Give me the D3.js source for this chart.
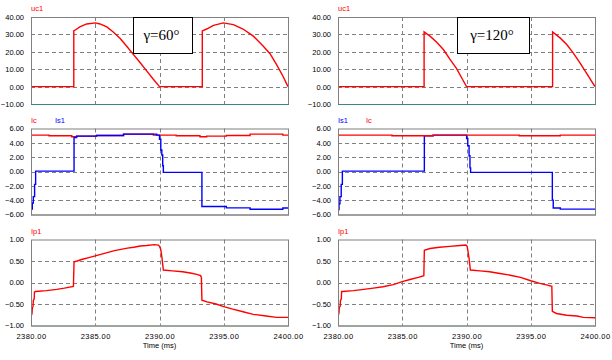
<!DOCTYPE html>
<html><head><meta charset="utf-8">
<script src="https://cdn.jsdelivr.net/npm/d3@7"></script>
<style>body{margin:0;background:#fff}</style>
</head><body>
<svg id="c" width="612" height="360"></svg>
<script>
// ---------- data ----------
const xDomain = [2380, 2400];
const xTicks = [2380, 2385, 2390, 2395, 2400];
const ucTicks = [-10, 0, 10, 20, 30, 40];
const iTicks = [-6, -4, -2, 0, 2, 4, 6];
const ipTicks = [-1, -0.5, 0, 0.5, 1];
const gammaLabels = ["γ=60°", "γ=120°"];

const ucLeft = [[2380,0],[2383.33,0],[2383.33,32.0],[2383.42,32.4],[2383.8,34.3],[2384.33,36.0],[2385.03,36.6],[2385.37,36.0],[2385.9,34.3],[2386.4,31.4],[2386.94,27.6],[2387.45,23.2],[2387.96,18.5],[2388.5,13.7],[2389.0,9.0],[2389.52,4.2],[2390.0,0],[2393.33,0],[2393.33,32],[2393.67,33.1],[2394.2,35.2],[2394.97,36.6],[2395.75,35.6],[2396.5,33.1],[2397.3,29],[2398.08,23.2],[2398.6,18.9],[2399.1,12.8],[2399.6,6.1],[2400,0]];
const ucRight = [[2380,0],[2386.7,0],[2386.7,31.4],[2387.16,29],[2387.68,25.5],[2388.2,21.3],[2388.72,15.6],[2389.23,10.3],[2389.62,5.1],[2390.0,0],[2396.7,0],[2396.7,31.4],[2397.28,28],[2397.8,24.2],[2398.3,19.4],[2398.83,13.7],[2399.35,7.6],[2400,0]];

const icLeft = [[2380,5.07],[2381.4,4.98],[2383.17,4.84],[2383.55,4.93],[2385.1,5.02],[2387.2,5.21],[2389.52,5.07],[2391.3,4.98],[2393.15,4.84],[2393.67,4.93],[2395.2,5.02],[2397.05,5.21],[2399.6,5.07],[2400,5.07]];
const isLeft = [[2380,-5.23],[2380.1,-4.4],[2380.18,-3.5],[2380.28,-1.8],[2380.36,0.05],[2383.35,4.74],[2383.55,4.93],[2385.1,5.02],[2387.2,5.21],[2389.78,5.07],[2390.0,4.5],[2390.1,3.0],[2390.18,2.3],[2390.25,0.8],[2390.3,-0.12],[2393.3,-4.88],[2395.2,-5.07],[2397.05,-5.26],[2399.6,-5.1],[2400,-5.1]];
const icRight = [[2380,5.07],[2384.2,4.98],[2387.4,5.07],[2394.1,4.98],[2397.3,5.07],[2400,5.07]];
const isRight = [[2380,-5.3],[2380.08,-4.5],[2380.15,-3.5],[2380.25,-1.8],[2380.34,0.05],[2386.72,4.98],[2387.4,5.07],[2390.01,4.6],[2390.1,3.6],[2390.2,2.2],[2390.27,0.5],[2390.32,-0.12],[2396.68,-4.0],[2396.75,-5.1],[2397.3,-5.25],[2400,-5.25]];

const ipLeft = [[2380,-0.80],[2380.08,-0.72],[2380.1,-0.60],[2380.16,-0.55],[2380.18,-0.42],[2380.25,-0.38],[2380.27,-0.22],[2380.35,-0.21],[2381.2,-0.19],[2382.0,-0.16],[2382.6,-0.13],[2383.3,-0.09],[2383.35,0.48],[2383.6,0.50],[2384.0,0.54],[2384.5,0.58],[2385.0,0.62],[2385.5,0.66],[2386.0,0.70],[2386.5,0.74],[2387.0,0.77],[2387.5,0.80],[2388.0,0.82],[2388.5,0.85],[2389.0,0.86],[2389.6,0.88],[2389.9,0.87],[2390.0,0.84],[2390.1,0.77],[2390.18,0.60],[2390.24,0.45],[2390.3,0.29],[2391.0,0.27],[2391.8,0.25],[2392.4,0.22],[2392.9,0.19],[2393.2,0.16],[2393.26,0.12],[2393.3,-0.41],[2393.7,-0.45],[2394.4,-0.50],[2395.0,-0.56],[2395.7,-0.62],[2396.5,-0.68],[2397.3,-0.74],[2398.3,-0.78],[2399.1,-0.81],[2400,-0.81]];
const ipRight = [[2380,-0.80],[2380.08,-0.70],[2380.1,-0.58],[2380.17,-0.55],[2380.19,-0.42],[2380.26,-0.38],[2380.28,-0.21],[2380.34,-0.21],[2381.2,-0.19],[2382.0,-0.16],[2382.75,-0.13],[2383.5,-0.10],[2384.3,-0.05],[2385.0,0.02],[2385.6,0.07],[2386.25,0.12],[2386.68,0.16],[2386.72,0.75],[2387.16,0.79],[2387.9,0.82],[2388.7,0.84],[2389.5,0.86],[2389.95,0.87],[2390.05,0.84],[2390.12,0.72],[2390.2,0.56],[2390.3,0.29],[2391.05,0.27],[2391.8,0.25],[2392.6,0.21],[2393.4,0.17],[2394.2,0.12],[2395.0,0.04],[2395.7,-0.02],[2396.3,-0.06],[2396.64,-0.09],[2396.68,-0.67],[2397.0,-0.72],[2397.8,-0.76],[2398.6,-0.78],[2399.1,-0.81],[2400,-0.82]];

// ---------- layout ----------
const svg = d3.select("#c");
svg.append("rect").attr("width",612).attr("height",360).attr("fill","#fff");
const cols = [{x0:31,x1:288},{x0:338,x1:595}];
const rows = [{y0:17,y1:104,ticks:ucTicks,fmt:d3.format(".2f"),bottom:"#3f8585"},
              {y0:128.5,y1:214.5,ticks:iTicks,fmt:d3.format(".2f"),bottom:"#808080"},
              {y0:239.5,y1:325.5,ticks:ipTicks,fmt:d3.format(".2f"),bottom:"#7a8a80"}];
const font = "Liberation Sans, Arial, sans-serif";
let clipId = 0;

function panel(ci, ri, series, labels) {
  const c = cols[ci], r = rows[ri];
  const x = d3.scaleLinear().domain(xDomain).range([c.x0, c.x1]);
  const dom = d3.extent(r.ticks);
  const y = d3.scaleLinear().domain(dom).range([r.y1, r.y0]);
  const g = svg.append("g");
  const id = "clip" + (clipId++);
  svg.append("clipPath").attr("id", id).append("rect")
    .attr("x", c.x0).attr("y", r.y0 - 1).attr("width", c.x1 - c.x0).attr("height", r.y1 - r.y0 + 2);
  // grid
  const inner = r.ticks.filter(t => t !== dom[0] && t !== dom[1]);
  g.selectAll("line.h").data(inner).enter().append("line")
    .attr("x1", c.x0).attr("x2", c.x1).attr("y1", d => Math.round(y(d)) + 0.5).attr("y2", d => Math.round(y(d)) + 0.5)
    .attr("stroke", "#808080").attr("stroke-dasharray", "4,3");
  g.selectAll("line.v").data(xTicks.slice(1, -1)).enter().append("line")
    .attr("y1", r.y0).attr("y2", r.y1).attr("x1", d => Math.round(x(d)) + 0.5).attr("x2", d => Math.round(x(d)) + 0.5)
    .attr("stroke", "#808080").attr("stroke-dasharray", "4,3");
  // y axis labels via d3 axis
  const ax = d3.axisLeft(y).tickValues(r.ticks).tickFormat(r.fmt).tickSize(0).tickPadding(7);
  const ag = g.append("g").attr("transform", `translate(${c.x0},0)`).call(ax);
  ag.select(".domain").remove();
  ag.selectAll("text").attr("font-family", font).attr("font-size", "7.5px").attr("fill", "#000");
  // series
  series.forEach(s => {
    const line = d3.line().x(d => x(d[0])).y(d => y(d[1])).curve(s.curve || d3.curveLinear);
    g.append("path").datum(s.data).attr("d", line).attr("fill", "none")
      .attr("stroke", s.color).attr("stroke-width", 1.4).attr("clip-path", `url(#${id})`);
  });
  // frame
  g.append("rect").attr("x", c.x0 + 0.5).attr("y", r.y0 + 0.5).attr("width", c.x1 - c.x0).attr("height", r.y1 - r.y0)
    .attr("fill", "none").attr("stroke", "#808080");
  g.append("line").attr("x1", c.x0).attr("x2", c.x1 + 1).attr("y1", r.y1 + 0.5).attr("y2", r.y1 + 0.5)
    .attr("stroke", r.bottom);
  // labels
  labels.forEach(l => {
    g.append("text").attr("x", c.x0 + l.dx).attr("y", r.y0 - 6).attr("font-family", font)
      .attr("font-size", "7.5px").attr("fill", l.color).text(l.text);
  });
  // x axis for bottom row
  if (ri === 2) {
    const xa = d3.axisBottom(x).tickValues(xTicks).tickFormat(d3.format(".2f")).tickSize(0).tickPadding(8);
    const xg = g.append("g").attr("transform", `translate(0,${r.y1})`).call(xa);
    xg.select(".domain").remove();
    xg.selectAll("text").attr("font-family", font).attr("font-size", "7.5px").attr("fill", "#000").attr("letter-spacing", "0.4px");
    g.append("text").attr("x", (c.x0 + c.x1) / 2).attr("y", 348).attr("text-anchor", "middle")
      .attr("font-family", font).attr("font-size", "7.5px").attr("fill", "#000").text("Time (ms)");
  }
  return {x, y};
}

const RED = "#ff0000", BLUE = "#0000ff";
panel(0, 0, [{data: ucLeft, color: RED}], [{text: "uc1", color: RED, dx: 0}]);
panel(1, 0, [{data: ucRight, color: RED}], [{text: "uc1", color: RED, dx: 0}]);
panel(0, 1, [{data: icLeft, color: RED, curve: d3.curveStepAfter}, {data: isLeft, color: BLUE, curve: d3.curveStepAfter}],
  [{text: "Ic", color: RED, dx: 0}, {text: "Is1", color: BLUE, dx: 24}]);
panel(1, 1, [{data: isRight, color: BLUE, curve: d3.curveStepAfter}, {data: icRight, color: RED, curve: d3.curveStepAfter}],
  [{text: "Is1", color: BLUE, dx: 0}, {text: "Ic", color: RED, dx: 28}]);
panel(0, 2, [{data: ipLeft, color: RED}], [{text: "Ip1", color: RED, dx: 0}]);
panel(1, 2, [{data: ipRight, color: RED}], [{text: "Ip1", color: RED, dx: 0}]);

// gamma boxes
const boxes = [{x0:133, x1:192, label: gammaLabels[0]}, {x0:457, x1:529, label: gammaLabels[1]}];
boxes.forEach(b => {
  svg.append("rect").attr("x", b.x0 + 0.5).attr("y", 17.5).attr("width", b.x1 - b.x0).attr("height", 36)
    .attr("fill", "#fff").attr("stroke", "#000");
  svg.append("text").attr("x", (b.x0 + b.x1) / 2 - 1).attr("y", 40).attr("text-anchor", "middle")
    .attr("font-family", "Liberation Serif, Times New Roman, serif").attr("font-size", "15px").attr("fill", "#000").text(b.label);
});
</script>
</body></html>
